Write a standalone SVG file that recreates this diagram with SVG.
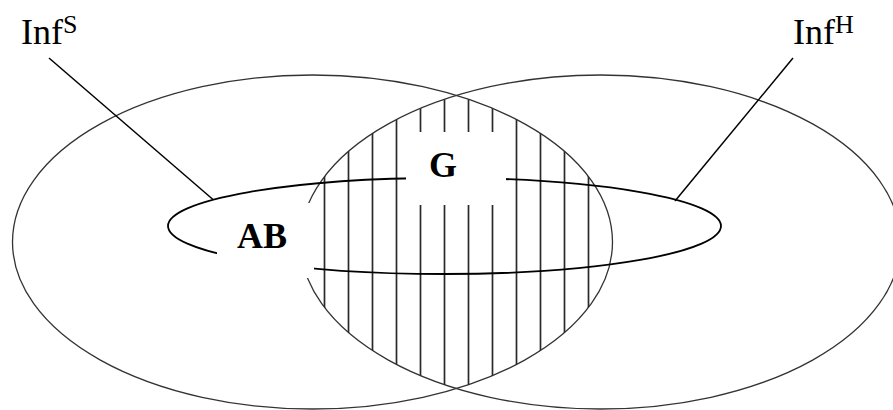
<svg xmlns="http://www.w3.org/2000/svg" width="893" height="410" viewBox="0 0 893 410">
<style>
.big{fill:none;stroke:#333;stroke-width:1.3}
.hatch{stroke:#2a2a2a;stroke-width:1.7}
.small{fill:none;stroke:#000;stroke-width:1.8}
.lead{stroke:#000;stroke-width:1.5}
.mask{fill:#fff;stroke:none}
.lbl{font-family:"Liberation Serif","Times New Roman",serif;fill:#000}
.b{font-weight:bold}
</style>
<defs>
<clipPath id="clipL"><ellipse cx="312.5" cy="242" rx="300" ry="167"/></clipPath>
<clipPath id="clipR"><ellipse cx="600.5" cy="242" rx="300" ry="167"/></clipPath>
</defs>
<rect width="893" height="410" fill="#fff"/>
<g id="infS-set"><ellipse class="big" cx="312.5" cy="242" rx="300" ry="167"/></g>
<g id="infH-set"><ellipse class="big" cx="600.5" cy="242" rx="300" ry="167"/></g>
<g id="G-region" clip-path="url(#clipL)">
<g clip-path="url(#clipR)">
<line class="hatch" x1="324.5" y1="80" x2="324.5" y2="400"/>
<line class="hatch" x1="348.5" y1="80" x2="348.5" y2="400"/>
<line class="hatch" x1="372.5" y1="80" x2="372.5" y2="400"/>
<line class="hatch" x1="396.5" y1="80" x2="396.5" y2="400"/>
<line class="hatch" x1="420.5" y1="80" x2="420.5" y2="400"/>
<line class="hatch" x1="444.5" y1="80" x2="444.5" y2="400"/>
<line class="hatch" x1="468.5" y1="80" x2="468.5" y2="400"/>
<line class="hatch" x1="492.5" y1="80" x2="492.5" y2="400"/>
<line class="hatch" x1="516.5" y1="80" x2="516.5" y2="400"/>
<line class="hatch" x1="540.5" y1="80" x2="540.5" y2="400"/>
<line class="hatch" x1="564.5" y1="80" x2="564.5" y2="400"/>
<line class="hatch" x1="588.5" y1="80" x2="588.5" y2="400"/>
</g>
</g>
<g id="AB-set"><ellipse class="small" cx="444.5" cy="226" rx="276.5" ry="48"/></g>
<g id="connectors">
<line class="lead" x1="49" y1="58" x2="213" y2="199.5"/>
<line class="lead" x1="793" y1="58" x2="675" y2="201"/>
</g>
<g id="label-masks">
<rect class="mask" x="406" y="132" width="100" height="73"/>
<rect class="mask" x="217" y="203" width="97" height="75"/>
</g>
<g id="labels">
<g id="label-infS"><text class="lbl" x="21" y="44" font-size="36">Inf</text><text class="lbl" x="63" y="33" font-size="26">S</text></g>
<g id="label-infH"><text class="lbl" x="793" y="44" font-size="36">Inf</text><text class="lbl" x="835" y="33" font-size="26">H</text></g>
<g id="label-G"><text class="lbl b" x="429" y="177" font-size="36">G</text></g>
<g id="label-AB"><text class="lbl b" x="237" y="248" font-size="36">AB</text></g>
</g>
</svg>
